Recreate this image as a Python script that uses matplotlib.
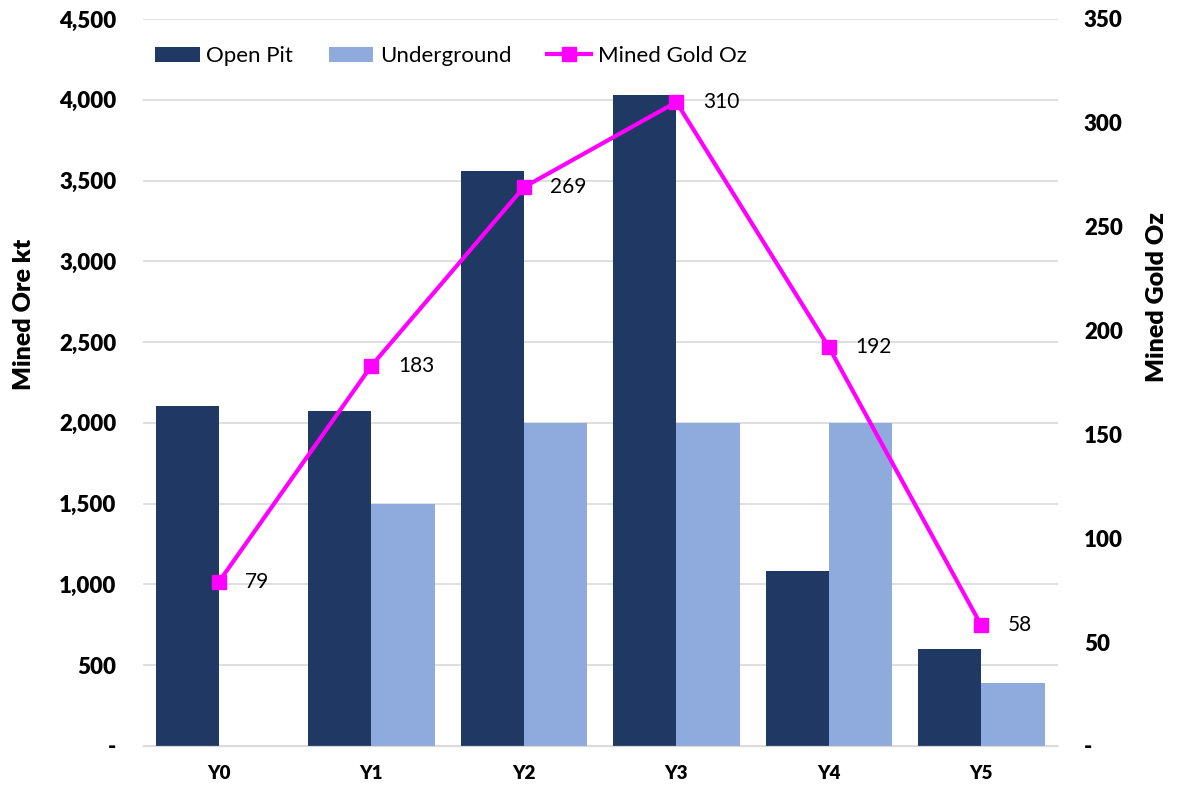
import numpy as np
import matplotlib.pyplot as plt
from matplotlib.ticker import FuncFormatter

plt.rcParams['font.family'] = ['Lato', 'DejaVu Sans']

# données
annees = ['Y0', 'Y1', 'Y2', 'Y3', 'Y4', 'Y5']
open_pit = [2105, 2075, 3560, 4030, 1080, 600]
underground = [0, 1500, 2000, 2000, 2000, 390]
gold_oz = [79, 183, 269, 310, 192, 58]

bleu_fonce = '#203864'
bleu_clair = '#8FAADC'
magenta = '#FF00FF'

fig = plt.figure(figsize=(11.79, 7.91), dpi=100)
ax = fig.add_axes([0.121, 0.057, 0.776, 0.919])
ax2 = ax.twinx()

x = np.arange(len(annees))
w = 0.415
ax.bar(x - w / 2, open_pit, w, color=bleu_fonce, label='Open Pit', zorder=2)
ax.bar(x + w / 2, underground, w, color=bleu_clair, label='Underground', zorder=2)

ax2.plot(x, gold_oz, color=magenta, lw=3, marker='s', ms=9.5, label='Mined Gold Oz', zorder=3)
for xi, v in zip(x, gold_oz):
    ax2.annotate(str(v), (xi, v), xytext=(19, 0), textcoords='offset points',
                 va='center', ha='left', fontsize=15)

ax.set_xlim(-0.5, len(annees) - 0.5)
ax.set_ylim(0, 4500)
ax2.set_ylim(0, 350)
ax.set_yticks(np.arange(0, 4501, 500))
ax2.set_yticks(np.arange(0, 351, 50))

tiret = lambda fmt: FuncFormatter(lambda v, p: '-' if v == 0 else fmt.format(v))
ax.yaxis.set_major_formatter(tiret('{:,.0f}'))
ax2.yaxis.set_major_formatter(tiret('{:.0f}'))

ax.set_xticks(x)
ax.set_xticklabels(annees, fontsize=13.5, fontweight='heavy')
for lab in ax.get_yticklabels() + ax2.get_yticklabels():
    lab.set_fontsize(16)
    lab.set_fontweight('heavy')

ax.grid(axis='y', color='#D9D9D9', lw=1.2, zorder=0)
ax.set_axisbelow(True)
for a in (ax, ax2):
    for s in ['top', 'left', 'right']:
        a.spines[s].set_visible(False)
    a.spines['bottom'].set_color('#D9D9D9')
    a.tick_params(length=0)
ax.tick_params(axis='y', pad=19)
ax.tick_params(axis='x', pad=14)
ax2.tick_params(axis='y', pad=19)

ax.set_ylabel('Mined Ore kt', fontsize=18, fontweight='heavy')
ax2.set_ylabel('Mined Gold Oz', fontsize=18, fontweight='heavy')
ax.yaxis.set_label_coords(-0.118, 0.593)
ax2.yaxis.set_label_coords(1.097, 0.618)

h1, l1 = ax.get_legend_handles_labels()
h2, l2 = ax2.get_legend_handles_labels()
ax.legend(h1 + h2, l1 + l2, loc='upper left', bbox_to_anchor=(-0.008, 0.99), ncol=3,
          frameon=False, fontsize=16, handlelength=2.0, columnspacing=1.6, handletextpad=0.3)

fig.savefig('out.png', dpi=100)
